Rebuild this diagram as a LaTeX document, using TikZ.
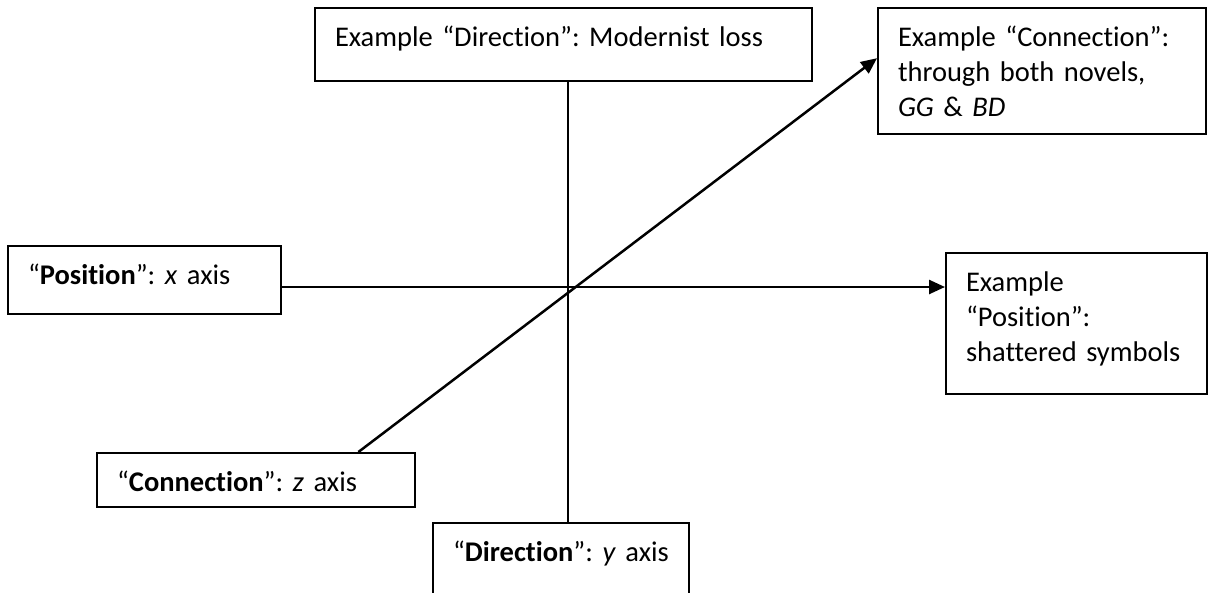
\documentclass[tikz,border=0pt]{standalone}
\usepackage{fontspec}
\setmainfont{Carlito}[Ligatures={TeX,NoCommon}]
\usetikzlibrary{arrows.meta,calc}

\tikzset{
  axisbox/.style={draw, line width=2pt, anchor=north west, inner xsep=20pt, inner ysep=0pt,
    align=left, text height=38pt, font=\fontsize{28.5}{35}\selectfont\frenchspacing},
  axisline/.style={line width=2.5pt},
  axistip/.style={-{Triangle[length=16pt,width=14pt]}}
}

\begin{document}
\begin{tikzpicture}[x=1pt,y=-1pt]
\useasboundingbox (0,0) rectangle (1208,592);

% boxes
\node[axisbox, text width=457pt, text depth=35pt] (dirEx) at (314,7) {Example “Direction”: Modernist loss};
\node[axisbox, text width=288pt, text depth=88pt] (conEx) at (877,7) {Example “Connection”:\\ through both novels,\\ \textit{GG} \& \textit{BD}};
\node[axisbox, text width=233pt, text depth=30pt] (posLab) at (7,245) {“\textbf{Position}”: \textit{x} axis};
\node[axisbox, text width=221pt, text depth=103pt] (posEx) at (945,252) {Example\\ “Position”:\\ shattered symbols};
\node[axisbox, text width=278pt, text depth=16pt] (conLab) at (96,452) {“\textbf{Connection}”: \textit{z} axis};
\node[axisbox, text width=216pt, text depth=42pt] (dirLab) at (432,522) {“\textbf{Direction}”: \textit{y} axis};

% axes
\coordinate (o) at (568,287);
\draw[axisline] (o |- dirEx.south) -- (o |- dirLab.north);
\draw[axisline, axistip] (posLab.east |- o) -- (posEx.west |- o);
\draw[axisline, axistip] ($(conLab.north west)!0.82!(conLab.north east)$) -- ($(conEx.north west)!0.4!(conEx.south west)$);

\end{tikzpicture}
\end{document}
